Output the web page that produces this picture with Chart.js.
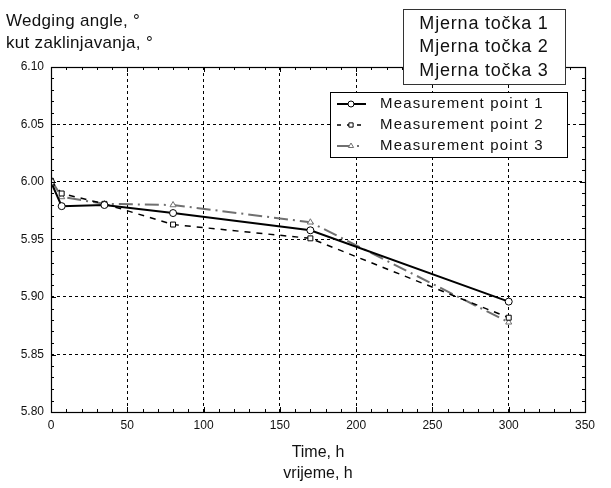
<!DOCTYPE html>
<html>
<head>
<meta charset="utf-8">
<script src="https://cdn.jsdelivr.net/npm/chart.js@4/dist/chart.umd.min.js"></script>
<style>
  html, body { margin: 0; padding: 0; background: #fff; }
  #wrap { width: 611px; height: 488px; }
</style>
</head>
<body>
<div id="wrap"><canvas id="chart" width="611" height="488"></canvas></div>
<script>
const FONT = "'Liberation Sans', Arial, sans-serif";

// time, h
const times = [0, 7, 35, 80, 170, 300];
// wedging angle, degrees
const point1 = [6.000, 5.979, 5.980, 5.973, 5.958, 5.896];
const point2 = [6.001, 5.990, 5.981, 5.963, 5.951, 5.882];
const point3 = [6.002, 5.987, 5.981, 5.980, 5.965, 5.878];

const seriesLabels = ["Measurement point 1", "Measurement point 2", "Measurement point 3"];
const boxLabels = ["Mjerna točka 1", "Mjerna točka 2", "Mjerna točka 3"];
const yTitle = ["Wedging angle, °", "kut zaklinjavanja, °"];
const xTitle = ["Time, h", "vrijeme, h"];

function toXY(values) {
  return values.map((v, i) => ({ x: times[i], y: v }));
}

function dataset(label, values, colour, dash, width, style) {
  return {
    label: label,
    data: toXY(values),
    showLine: true,
    borderColor: colour,
    borderWidth: width,
    borderDash: dash,
    pointStyle: style,
    pointRadius: 3.5,
    pointBorderWidth: 1,
    pointBackgroundColor: "#ffffff",
    pointBorderColor: colour,
    tension: 0,
  };
}

const datasets = [
  dataset(seriesLabels[0], point1, "#000000", [], 2, "circle"),
  dataset(seriesLabels[1], point2, "#000000", [6, 6], 1.5, "rect"),
  dataset(seriesLabels[2], point3, "#707070", [14, 5, 2, 5], 2, "triangle"),
];

// little legend samples, as in the original
const legendDash = [[], [4, 6], [12, 8, 2, 20]];

// frame, minor ticks, titles and the two boxes
const decorations = {
  id: "decorations",
  afterDraw(chart) {
    const ctx = chart.ctx;
    const a = chart.chartArea;
    const xs = chart.scales.x;
    const ys = chart.scales.y;
    ctx.save();

    // minor ticks on all four sides
    ctx.strokeStyle = "#000";
    ctx.lineWidth = 1;
    ctx.beginPath();
    for (let t = 0; t <= 350; t += 10) {
      const px = Math.round(xs.getPixelForValue(t)) + 0.5;
      const len = t % 50 === 0 ? 5 : 3;
      ctx.moveTo(px, a.bottom); ctx.lineTo(px, a.bottom - len);
      ctx.moveTo(px, a.top); ctx.lineTo(px, a.top + len);
    }
    for (let k = 0; k <= 30; k++) {
      const py = Math.round(ys.getPixelForValue(5.8 + k * 0.01)) + 0.5;
      const len = k % 5 === 0 ? 5 : 3;
      ctx.moveTo(a.left, py); ctx.lineTo(a.left + len, py);
      ctx.moveTo(a.right, py); ctx.lineTo(a.right - len, py);
    }
    ctx.stroke();

    // solid frame
    ctx.lineWidth = 1.2;
    ctx.strokeRect(Math.round(a.left) + 0.5, Math.round(a.top) + 0.5,
      Math.round(a.right - a.left), Math.round(a.bottom - a.top));

    // axis titles
    ctx.fillStyle = "#111";
    ctx.font = "17px " + FONT;
    ctx.letterSpacing = "0.3px";
    ctx.textAlign = "left";
    ctx.textBaseline = "middle";
    ctx.fillText(yTitle[0], 6, 21);
    ctx.fillText(yTitle[1], 6, 43);
    ctx.font = "16px " + FONT;
    ctx.letterSpacing = "0px";
    ctx.textAlign = "center";
    ctx.fillText(xTitle[0], 318, 453);
    ctx.fillText(xTitle[1], 318, 474);

    // legend inside the plot
    const lx = 330, ly = 92, lw = 237, lh = 65;
    ctx.fillStyle = "#fff";
    ctx.fillRect(lx, ly, lw, lh);
    ctx.strokeStyle = "#000";
    ctx.lineWidth = 1;
    ctx.strokeRect(lx + 0.5, ly + 0.5, lw, lh);
    chart.data.datasets.forEach((ds, i) => {
      const y = ly + 12 + i * 21;
      ctx.save();
      ctx.strokeStyle = ds.borderColor;
      ctx.lineWidth = ds.borderWidth;
      ctx.setLineDash(legendDash[i]);
      ctx.beginPath();
      ctx.moveTo(337, y);
      ctx.lineTo(366, y);
      ctx.stroke();
      ctx.restore();
      ctx.fillStyle = "#fff";
      ctx.strokeStyle = ds.borderColor;
      ctx.lineWidth = 1;
      Chart.helpers.drawPoint(ctx, {
        pointStyle: ds.pointStyle, radius: 3, borderWidth: 1, rotation: 0,
      }, 351, y);
      ctx.fillStyle = "#111";
      ctx.font = "15px " + FONT;
      ctx.letterSpacing = "1.2px";
      ctx.textAlign = "left";
      ctx.textBaseline = "middle";
      ctx.fillText(ds.label, 380, y);
    });

    // Croatian label box at top right
    const bx = 403, by = 9, bw = 162, bh = 75;
    ctx.fillStyle = "#fff";
    ctx.fillRect(bx, by, bw, bh);
    ctx.strokeStyle = "#333";
    ctx.lineWidth = 1;
    ctx.strokeRect(bx + 0.5, by + 0.5, bw, bh);
    ctx.fillStyle = "#111";
    ctx.font = "18px " + FONT;
    ctx.letterSpacing = "0.8px";
    ctx.textAlign = "center";
    boxLabels.forEach((t, i) => ctx.fillText(t, bx + bw / 2, by + 15 + i * 23.5));

    ctx.restore();
  },
};

const tickFont = { family: FONT, size: 12 };

new Chart(document.getElementById("chart").getContext("2d"), {
  type: "scatter",
  data: { datasets: datasets },
  plugins: [decorations],
  options: {
    responsive: false,
    animation: false,
    layout: { padding: { left: 0, right: 26, top: 67, bottom: 0 } },
    plugins: { legend: { display: false }, tooltip: { enabled: false } },
    scales: {
      x: {
        type: "linear",
        min: 0,
        max: 350,
        afterFit: (scale) => { scale.height = 76; },
        grid: { color: "#000", lineWidth: 1, drawTicks: false },
        border: { display: false, dash: [3, 3] },
        ticks: { stepSize: 50, color: "#111", font: tickFont, padding: 6, maxRotation: 0 },
      },
      y: {
        type: "linear",
        min: 5.8,
        max: 6.1,
        afterFit: (scale) => { scale.width = 51; },
        grid: { color: "#000", lineWidth: 1, drawTicks: false },
        border: { display: false, dash: [3, 3] },
        ticks: {
          stepSize: 0.05,
          color: "#111",
          font: tickFont,
          padding: 7,
          callback: (v) => Number(v).toFixed(2),
        },
      },
    },
  },
});
</script>
</body>
</html>
